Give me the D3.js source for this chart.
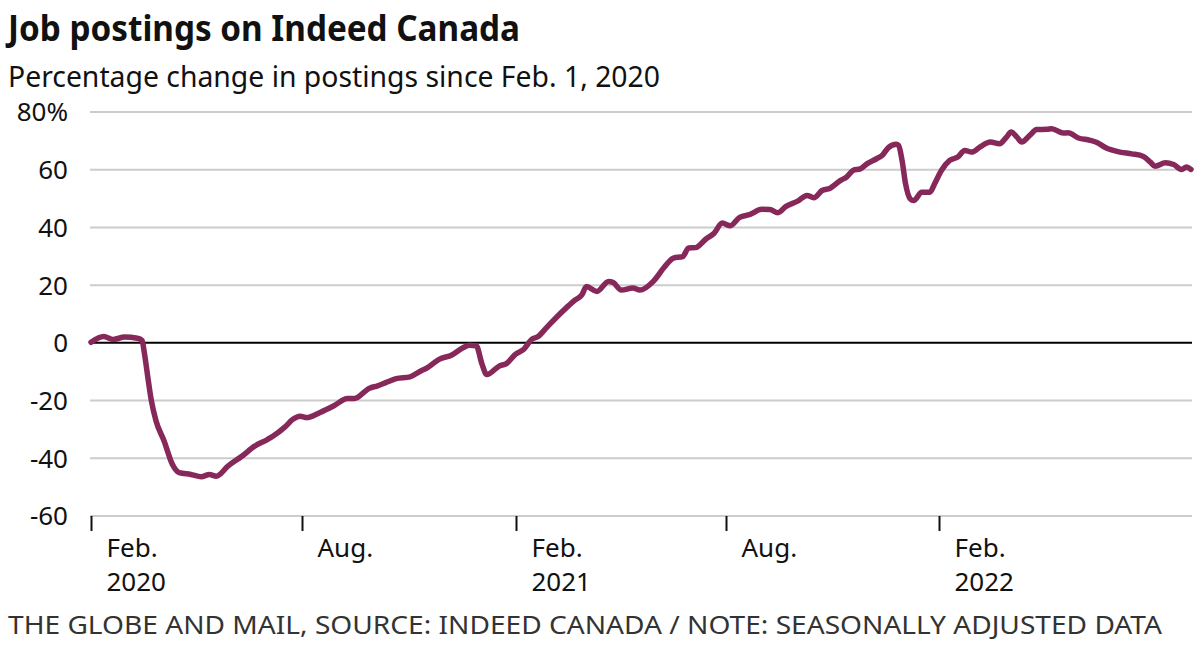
<!DOCTYPE html>
<html>
<head>
<meta charset="utf-8">
<script src="https://cdn.jsdelivr.net/npm/d3@7"></script>
<style>
  body { margin: 0; background: #fff; }
  svg { display: block; }
</style>
</head>
<body>
<div id="chart"></div>
<script>
// Data (percentage change since Feb. 1, 2020)
const dates = [
  "2020-02-01","2020-02-12","2020-02-20","2020-03-01","2020-03-12","2020-03-16","2020-03-18",
  "2020-03-21","2020-03-24","2020-03-28","2020-04-04","2020-04-11","2020-04-17","2020-04-27",
  "2020-05-06","2020-05-13","2020-05-19","2020-05-29","2020-06-10","2020-06-21","2020-07-02",
  "2020-07-07","2020-07-17","2020-07-24","2020-07-30","2020-08-05","2020-08-16","2020-08-28",
  "2020-09-09","2020-09-15","2020-09-28","2020-10-05","2020-10-12","2020-10-21","2020-11-02",
  "2020-11-10","2020-11-17","2020-11-27","2020-12-08","2020-12-18","2020-12-23","2020-12-29",
  "2021-01-03","2021-01-07","2021-01-18","2021-01-24","2021-02-01","2021-02-08","2021-02-15",
  "2021-02-20","2021-02-27","2021-03-08","2021-03-17","2021-03-24","2021-03-30","2021-04-03",
  "2021-04-12","2021-04-22","2021-04-26","2021-05-03","2021-05-13","2021-05-19","2021-05-31",
  "2021-06-09","2021-06-17","2021-06-25","2021-06-30","2021-07-06","2021-07-15","2021-07-22",
  "2021-07-29","2021-08-05","2021-08-13","2021-08-22","2021-09-01","2021-09-08","2021-09-15",
  "2021-09-22","2021-10-02","2021-10-10","2021-10-16","2021-10-23","2021-10-30","2021-11-08",
  "2021-11-13","2021-11-19","2021-11-25","2021-12-01","2021-12-09","2021-12-14","2021-12-19",
  "2021-12-26","2021-12-28","2021-12-31","2022-01-03","2022-01-07","2022-01-10","2022-01-17",
  "2022-01-24","2022-01-28","2022-02-03","2022-02-10","2022-02-17","2022-02-23","2022-03-01",
  "2022-03-08","2022-03-17","2022-03-25","2022-03-31","2022-04-04","2022-04-09","2022-04-13",
  "2022-04-20","2022-04-26","2022-05-05","2022-05-09","2022-05-19","2022-05-23","2022-06-01",
  "2022-06-11","2022-06-17","2022-06-25","2022-07-07","2022-07-17","2022-07-27","2022-08-02",
  "2022-08-06","2022-08-15","2022-08-22","2022-08-29","2022-09-02","2022-09-06"
];
const values = [
  0.2, 2.2, 1.2, 2.0, 1.6, 0.8, -3.5,
  -12, -20, -27, -34, -42, -45, -45.6,
  -46.4, -45.6, -46.2, -42.7, -39.3, -35.8, -33.5,
  -32.3, -29.2, -26.5, -25.4, -25.9, -24.2, -21.9,
  -19.3, -19.3, -15.7, -14.9, -13.8, -12.4, -11.8,
  -10, -8.6, -5.7, -4.2, -1.6, -0.8, -1.0,
  -7.4, -11.0, -8, -7.2, -3.9, -2.2, 1.3,
  2.1, 5, 8.8, 12.3, 14.8, 16.6, 19.5,
  17.8, 21.3, 20.9, 18.3, 19, 18.3, 21.5,
  26.2, 29.4, 29.9, 32.9, 33.0, 36, 38,
  41.5, 40.6, 43.5, 44.5, 46.3, 46.2, 45.1,
  47.3, 49.1, 51.1, 50.3, 52.8, 53.6, 56.3,
  57.4, 59.8, 60.3, 62.1, 63.8, 65, 67.6,
  68.8, 68.4, 63.2, 55.1, 49.9, 49.3, 52.2,
  52.2, 55.1, 59.8, 63.2, 64.4, 66.7, 66.1,
  67.8, 69.6, 69, 71.3, 73.1, 71.3, 69.6,
  71.9, 73.9, 74, 74.2, 72.7, 72.8, 71,
  70.2, 69.4, 67.5, 66.1, 65.5, 64.6, 62.6,
  61.2, 62.4, 61.8, 60.1, 60.9, 60.1
];
const yTicks = [80, 60, 40, 20, 0, -20, -40, -60];
const xTickDates = ["2020-02-01", "2020-08-01", "2021-02-01", "2021-08-01", "2022-02-01"];
const xTickLabels = [["Feb.", "2020"], ["Aug."], ["Feb.", "2021"], ["Aug."], ["Feb.", "2022"]];

const W = 1200, H = 672;
const font = "'Noto Sans', 'Open Sans', sans-serif";
const lineColor = "#86295a";

const parse = d3.timeParse("%Y-%m-%d");
const data = dates.map((d, i) => ({ date: parse(d), value: values[i] }));

const svg = d3.select("#chart").append("svg")
  .attr("width", W)
  .attr("height", H)
  .style("font-family", font);

// plot frame
const left = 90, right = 1192;
const x = d3.scaleTime()
  .domain([parse("2020-02-01"), parse("2022-09-06")])
  .range([91, 1191]);
const y = d3.scaleLinear()
  .domain([-60, 80])
  .range([516, 112]);

// titles (reference font is condensed, so squeeze to its width)
svg.append("text")
  .attr("x", 8).attr("y", 41)
  .attr("font-size", 36).attr("font-weight", 700)
  .attr("fill", "#111")
  .attr("textLength", 512).attr("lengthAdjust", "spacingAndGlyphs")
  .text("Job postings on Indeed Canada");

svg.append("text")
  .attr("x", 8).attr("y", 87)
  .attr("font-size", 29)
  .attr("fill", "#111")
  .attr("textLength", 652).attr("lengthAdjust", "spacingAndGlyphs")
  .text("Percentage change in postings since Feb. 1, 2020");

// gridlines
svg.append("g")
  .selectAll("line")
  .data(yTicks.filter(d => d !== 0))
  .join("line")
  .attr("x1", left).attr("x2", right)
  .attr("y1", d => y(d)).attr("y2", d => y(d))
  .attr("stroke", "#cccccc")
  .attr("stroke-width", 2);

// y labels
svg.append("g")
  .selectAll("text")
  .data(yTicks)
  .join("text")
  .attr("x", 68)
  .attr("y", d => y(d))
  .attr("dy", "0.36em")
  .attr("text-anchor", "end")
  .attr("font-size", 26)
  .attr("fill", "#111")
  .text(d => d === 80 ? "80%" : d);

// x axis ticks
const xg = svg.append("g");
xTickDates.forEach((d, i) => {
  const xp = Math.round(x(parse(d))) + 0.5;
  xg.append("line")
    .attr("x1", xp).attr("x2", xp)
    .attr("y1", y(-60)).attr("y2", y(-60) + 15)
    .attr("stroke", "#111")
    .attr("stroke-width", 2);
  xTickLabels[i].forEach((t, j) => {
    xg.append("text")
      .attr("x", xp + 15)
      .attr("y", 557 + j * 34)
      .attr("font-size", 26)
      .attr("fill", "#111")
      .text(t);
  });
});

// zero line
svg.append("line")
  .attr("x1", left).attr("x2", right)
  .attr("y1", y(0)).attr("y2", y(0))
  .attr("stroke", "#000")
  .attr("stroke-width", 2);

// series line
const line = d3.line()
  .x(d => x(d.date))
  .y(d => y(d.value))
  .curve(d3.curveMonotoneX);

svg.append("path")
  .datum(data)
  .attr("d", line)
  .attr("fill", "none")
  .attr("stroke", lineColor)
  .attr("stroke-width", 5.5)
  .attr("stroke-linejoin", "round")
  .attr("stroke-linecap", "round");

// footer
svg.append("text")
  .attr("x", 8).attr("y", 634)
  .attr("font-size", 25)
  .attr("fill", "#333")
  .attr("textLength", 1154).attr("lengthAdjust", "spacingAndGlyphs")
  .text("THE GLOBE AND MAIL, SOURCE: INDEED CANADA / NOTE: SEASONALLY ADJUSTED DATA");
</script>
</body>
</html>
